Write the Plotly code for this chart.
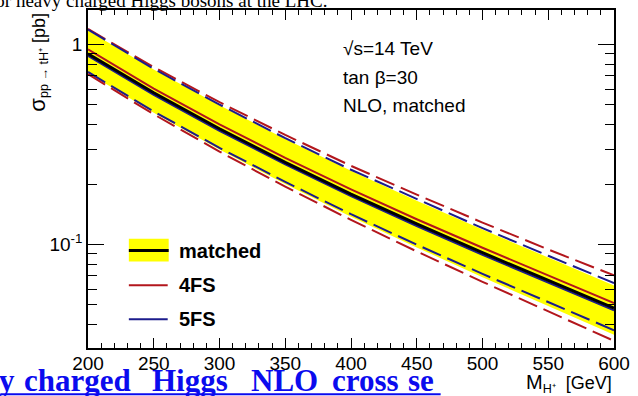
import plotly.graph_objects as go

# Charged Higgs mass points [GeV]
mass = [200, 250, 300, 350, 400, 450, 500, 550, 600]

# sigma(pp -> tH+) [pb], tan(beta)=30, sqrt(s)=14 TeV
matched = [0.902, 0.575, 0.380, 0.258, 0.179, 0.127, 0.0912, 0.0662, 0.0481]
matched_up = [1.18, 0.753, 0.498, 0.338, 0.234, 0.166, 0.119, 0.0862, 0.0625]
matched_dn = [0.722, 0.457, 0.299, 0.201, 0.138, 0.0969, 0.0687, 0.0493, 0.0354]

fs4 = [0.948, 0.604, 0.400, 0.272, 0.189, 0.134, 0.0965, 0.0701, 0.0510]
fs4_up = [1.20, 0.773, 0.516, 0.354, 0.248, 0.178, 0.129, 0.0946, 0.0702]
fs4_dn = [0.713, 0.449, 0.292, 0.195, 0.133, 0.0925, 0.0652, 0.0465, 0.0330]

fs5 = [0.880, 0.561, 0.371, 0.252, 0.175, 0.124, 0.0889, 0.0645, 0.0469]
fs5_up = [1.19, 0.758, 0.502, 0.341, 0.237, 0.169, 0.121, 0.0880, 0.0642]
fs5_dn = [0.731, 0.464, 0.305, 0.206, 0.142, 0.100, 0.0714, 0.0515, 0.0373]

x_ticks = [200, 250, 300, 350, 400, 450, 500, 550, 600]
y_ticks = [0.1, 1]
y_ticktext = ["10<sup>-1</sup>", "1"]
y_minor = [0.04, 0.05, 0.06, 0.07, 0.08, 0.09, 0.2, 0.3, 0.4, 0.5, 0.6, 0.7, 0.8, 0.9]

RED = "#b3161c"
BLUE = "#1c1c8c"
YELLOW = "#ffff00"
LINK = "#0b0bee"
SANS = "Liberation Sans"
SERIF = "Liberation Serif"

W, H = 638, 396
L, R, T, B = 88, 22, 8, 48
PW, PH = W - L - R, H - T - B


def px_x(px):
    return (px - L) / PW


def px_y(py):
    return (H - B - py) / PH


fig = go.Figure()

# matched uncertainty band
fig.add_trace(go.Scatter(x=mass, y=matched_up, mode="lines",
                         line=dict(width=0, color=YELLOW), hoverinfo="skip"))
fig.add_trace(go.Scatter(x=mass, y=matched_dn, mode="lines", fill="tonexty",
                         fillcolor=YELLOW, line=dict(width=0, color=YELLOW),
                         hoverinfo="skip"))

# 4FS / 5FS scale-uncertainty edges
dash = "20px,7px"
for ys, col in [(fs4_up, RED), (fs5_up, BLUE), (fs5_dn, BLUE), (fs4_dn, RED)]:
    fig.add_trace(go.Scatter(x=mass, y=ys, mode="lines",
                             line=dict(color=col, width=2, dash=dash)))

# central predictions
fig.add_trace(go.Scatter(x=mass, y=fs5, mode="lines", line=dict(color=BLUE, width=2)))
fig.add_trace(go.Scatter(x=mass, y=fs4, mode="lines", line=dict(color=RED, width=2)))
fig.add_trace(go.Scatter(x=mass, y=matched, mode="lines", line=dict(color="black", width=3)))

shapes = []
annotations = []

# legend
shapes.append(dict(type="rect", xref="paper", yref="paper",
                   x0=px_x(129), x1=px_x(169), y0=px_y(261), y1=px_y(238),
                   fillcolor=YELLOW, line=dict(width=0)))
shapes.append(dict(type="line", xref="paper", yref="paper",
                   x0=px_x(129), x1=px_x(169), y0=px_y(250), y1=px_y(250),
                   line=dict(color="black", width=3)))
shapes.append(dict(type="line", xref="paper", yref="paper",
                   x0=px_x(129), x1=px_x(168), y0=px_y(285), y1=px_y(285),
                   line=dict(color=RED, width=2)))
shapes.append(dict(type="line", xref="paper", yref="paper",
                   x0=px_x(129), x1=px_x(168), y0=px_y(319), y1=px_y(319),
                   line=dict(color=BLUE, width=2)))
for label, py in [("matched", 250), ("4FS", 285), ("5FS", 319)]:
    annotations.append(dict(text=f"<b>{label}</b>", xref="paper", yref="paper",
                            x=px_x(177), y=px_y(py), xanchor="left", yanchor="middle",
                            showarrow=False, font=dict(family=SANS, size=20, color="black")))

# process info
for label, py in [("√s=14 TeV", 47), ("tan β=30", 76), ("NLO, matched", 104)]:
    annotations.append(dict(text=label, xref="paper", yref="paper",
                            x=px_x(342), y=px_y(py), xanchor="left", yanchor="middle",
                            showarrow=False, font=dict(family=SANS, size=19, color="black")))

# axis titles
annotations.append(dict(text="<span style='font-size:20px'>M</span><sub>H⁺</sub>  [GeV]",
                        xref="paper", yref="paper",
                        x=px_x(616), y=px_y(384), xanchor="right", yanchor="middle",
                        showarrow=False, font=dict(family=SANS, size=18, color="black")))
annotations.append(dict(text="<span style='font-size:22px'>σ</span><sub>pp → tH⁺</sub> [pb]",
                        xref="paper", yref="paper",
                        x=px_x(38), y=px_y(9), xanchor="center", yanchor="top",
                        textangle=-90, showarrow=False,
                        font=dict(family=SANS, size=18, color="black")))

# surrounding page text
annotations.append(dict(text="for heavy charged Higgs bosons at the LHC.", xref="paper", yref="paper",
                        x=px_x(-13), y=px_y(11), xanchor="left", yanchor="bottom",
                        showarrow=False, font=dict(family=SERIF, size=19, color="black")))
for word, px in [("y", -3), ("charged", 22), ("Higgs", 150), ("NLO", 250), ("cross", 331), ("se", 407)]:
    annotations.append(dict(text=f"<b>{word}</b>", xref="paper", yref="paper",
                            x=px_x(px), y=px_y(381), xanchor="left", yanchor="middle",
                            showarrow=False, font=dict(family=SERIF, size=31, color=LINK)))
shapes.append(dict(type="line", xref="paper", yref="paper",
                   x0=px_x(0), x1=px_x(442), y0=px_y(394.5), y1=px_y(394.5),
                   line=dict(color=LINK, width=2)))

fig.update_layout(
    width=W, height=H, autosize=False,
    margin=dict(l=L, r=R, t=T, b=B),
    paper_bgcolor="white", plot_bgcolor="white",
    showlegend=False,
    shapes=shapes, annotations=annotations,
    font=dict(family=SANS, size=19, color="black"),
)
fig.update_xaxes(
    range=[200, 600], tickmode="array", tickvals=x_ticks,
    ticks="inside", ticklen=10, tickwidth=1, tickcolor="black",
    showline=True, linecolor="black", linewidth=1.5, mirror="allticks",
    showgrid=False, zeroline=False, ticklabelstandoff=-3,
    tickfont=dict(family=SANS, size=19, color="black"),
    minor=dict(ticks="inside", ticklen=5, dtick=10, tickcolor="black", showgrid=False),
)
fig.update_yaxes(
    type="log", range=[-1.517, 0.174], tickmode="array", tickvals=y_ticks,
    ticktext=y_ticktext,
    ticks="inside", ticklen=16, tickwidth=1, tickcolor="black",
    showline=True, linecolor="black", linewidth=1.5, mirror="allticks",
    showgrid=False, zeroline=False,
    tickfont=dict(family=SANS, size=19, color="black"),
    minor=dict(ticks="inside", ticklen=9, tickmode="array", tickvals=y_minor,
               tickcolor="black", showgrid=False),
)

fig.write_html("out.html")
